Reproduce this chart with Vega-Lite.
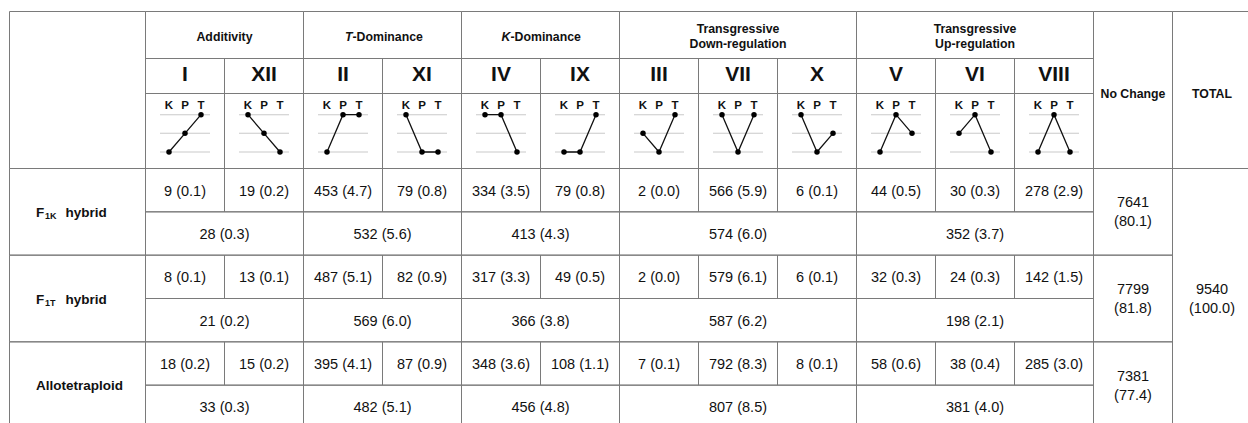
{
  "$schema": "https://vega.github.io/schema/vega-lite/v6.json",
  "width": 1248,
  "height": 423,
  "autosize": {"type": "none"},
  "padding": 0,
  "background": "white",
  "config": {"view": {"stroke": null}},
  "resolve": {"scale": {"x": "independent", "y": "independent", "xOffset": "independent"}},
  "datasets": {
    "classes": [
      {"cls": "I", "group": "Additivity", "K": 1, "P": 2, "T": 3},
      {"cls": "XII", "group": "Additivity", "K": 3, "P": 2, "T": 1},
      {"cls": "II", "group": "T-Dominance", "K": 1, "P": 3, "T": 3},
      {"cls": "XI", "group": "T-Dominance", "K": 3, "P": 1, "T": 1},
      {"cls": "IV", "group": "K-Dominance", "K": 3, "P": 3, "T": 1},
      {"cls": "IX", "group": "K-Dominance", "K": 1, "P": 1, "T": 3},
      {"cls": "III", "group": "Transgressive Down-regulation", "K": 2, "P": 1, "T": 3},
      {"cls": "VII", "group": "Transgressive Down-regulation", "K": 3, "P": 1, "T": 3},
      {"cls": "X", "group": "Transgressive Down-regulation", "K": 3, "P": 1, "T": 2},
      {"cls": "V", "group": "Transgressive Up-regulation", "K": 1, "P": 3, "T": 2},
      {"cls": "VI", "group": "Transgressive Up-regulation", "K": 2, "P": 3, "T": 1},
      {"cls": "VIII", "group": "Transgressive Up-regulation", "K": 1, "P": 3, "T": 1}
    ],
    "heads": [
      {"kind": "corner", "c0": 0, "c1": 1, "r0": 0, "r1": 3, "title": "", "lead": "", "tail": ""},
      {"kind": "group", "c0": 1, "c1": 3, "r0": 0, "r1": 1, "title": "Additivity", "lead": "", "tail": ""},
      {"kind": "group", "c0": 3, "c1": 5, "r0": 0, "r1": 1, "title": "", "lead": "T", "tail": "-Dominance"},
      {"kind": "group", "c0": 5, "c1": 7, "r0": 0, "r1": 1, "title": "", "lead": "K", "tail": "-Dominance"},
      {"kind": "group2", "c0": 7, "c1": 10, "r0": 0, "r1": 1, "title": ["Transgressive", "Down-regulation"], "lead": "", "tail": ""},
      {"kind": "group2", "c0": 10, "c1": 13, "r0": 0, "r1": 1, "title": ["Transgressive", "Up-regulation"], "lead": "", "tail": ""},
      {"kind": "side", "c0": 13, "c1": 14, "r0": 0, "r1": 3, "title": "No Change", "lead": "", "tail": ""},
      {"kind": "side", "c0": 14, "c1": 15, "r0": 0, "r1": 3, "title": "TOTAL", "lead": "", "tail": ""}
    ],
    "lines": [
      {"line": "F1K hybrid", "base": "F", "sub": "1K", "rest": "hybrid", "r0": 3, "r1": 5},
      {"line": "F1T hybrid", "base": "F", "sub": "1T", "rest": "hybrid", "r0": 5, "r1": 7},
      {"line": "Allotetraploid", "base": "Allotetraploid", "sub": "", "rest": "", "r0": 7, "r1": 9}
    ],
    "body": [
      {"line": "F1K hybrid", "cls": "I", "n": 9, "pct": 0.1, "text": "9 (0.1)", "c0": 1, "c1": 2, "r0": 3, "r1": 4},
      {"line": "F1K hybrid", "cls": "XII", "n": 19, "pct": 0.2, "text": "19 (0.2)", "c0": 2, "c1": 3, "r0": 3, "r1": 4},
      {"line": "F1K hybrid", "cls": "II", "n": 453, "pct": 4.7, "text": "453 (4.7)", "c0": 3, "c1": 4, "r0": 3, "r1": 4},
      {"line": "F1K hybrid", "cls": "XI", "n": 79, "pct": 0.8, "text": "79 (0.8)", "c0": 4, "c1": 5, "r0": 3, "r1": 4},
      {"line": "F1K hybrid", "cls": "IV", "n": 334, "pct": 3.5, "text": "334 (3.5)", "c0": 5, "c1": 6, "r0": 3, "r1": 4},
      {"line": "F1K hybrid", "cls": "IX", "n": 79, "pct": 0.8, "text": "79 (0.8)", "c0": 6, "c1": 7, "r0": 3, "r1": 4},
      {"line": "F1K hybrid", "cls": "III", "n": 2, "pct": 0.0, "text": "2 (0.0)", "c0": 7, "c1": 8, "r0": 3, "r1": 4},
      {"line": "F1K hybrid", "cls": "VII", "n": 566, "pct": 5.9, "text": "566 (5.9)", "c0": 8, "c1": 9, "r0": 3, "r1": 4},
      {"line": "F1K hybrid", "cls": "X", "n": 6, "pct": 0.1, "text": "6 (0.1)", "c0": 9, "c1": 10, "r0": 3, "r1": 4},
      {"line": "F1K hybrid", "cls": "V", "n": 44, "pct": 0.5, "text": "44 (0.5)", "c0": 10, "c1": 11, "r0": 3, "r1": 4},
      {"line": "F1K hybrid", "cls": "VI", "n": 30, "pct": 0.3, "text": "30 (0.3)", "c0": 11, "c1": 12, "r0": 3, "r1": 4},
      {"line": "F1K hybrid", "cls": "VIII", "n": 278, "pct": 2.9, "text": "278 (2.9)", "c0": 12, "c1": 13, "r0": 3, "r1": 4},
      {"line": "F1K hybrid", "group": "Additivity", "n": 28, "pct": 0.3, "text": "28 (0.3)", "c0": 1, "c1": 3, "r0": 4, "r1": 5},
      {"line": "F1K hybrid", "group": "T-Dominance", "n": 532, "pct": 5.6, "text": "532 (5.6)", "c0": 3, "c1": 5, "r0": 4, "r1": 5},
      {"line": "F1K hybrid", "group": "K-Dominance", "n": 413, "pct": 4.3, "text": "413 (4.3)", "c0": 5, "c1": 7, "r0": 4, "r1": 5},
      {"line": "F1K hybrid", "group": "Transgressive Down-regulation", "n": 574, "pct": 6.0, "text": "574 (6.0)", "c0": 7, "c1": 10, "r0": 4, "r1": 5},
      {"line": "F1K hybrid", "group": "Transgressive Up-regulation", "n": 352, "pct": 3.7, "text": "352 (3.7)", "c0": 10, "c1": 13, "r0": 4, "r1": 5},
      {"line": "F1K hybrid", "group": "No Change", "n": 7641, "pct": 80.1, "text": ["7641", "(80.1)"], "c0": 13, "c1": 14, "r0": 3, "r1": 5},

      {"line": "F1T hybrid", "cls": "I", "n": 8, "pct": 0.1, "text": "8 (0.1)", "c0": 1, "c1": 2, "r0": 5, "r1": 6},
      {"line": "F1T hybrid", "cls": "XII", "n": 13, "pct": 0.1, "text": "13 (0.1)", "c0": 2, "c1": 3, "r0": 5, "r1": 6},
      {"line": "F1T hybrid", "cls": "II", "n": 487, "pct": 5.1, "text": "487 (5.1)", "c0": 3, "c1": 4, "r0": 5, "r1": 6},
      {"line": "F1T hybrid", "cls": "XI", "n": 82, "pct": 0.9, "text": "82 (0.9)", "c0": 4, "c1": 5, "r0": 5, "r1": 6},
      {"line": "F1T hybrid", "cls": "IV", "n": 317, "pct": 3.3, "text": "317 (3.3)", "c0": 5, "c1": 6, "r0": 5, "r1": 6},
      {"line": "F1T hybrid", "cls": "IX", "n": 49, "pct": 0.5, "text": "49 (0.5)", "c0": 6, "c1": 7, "r0": 5, "r1": 6},
      {"line": "F1T hybrid", "cls": "III", "n": 2, "pct": 0.0, "text": "2 (0.0)", "c0": 7, "c1": 8, "r0": 5, "r1": 6},
      {"line": "F1T hybrid", "cls": "VII", "n": 579, "pct": 6.1, "text": "579 (6.1)", "c0": 8, "c1": 9, "r0": 5, "r1": 6},
      {"line": "F1T hybrid", "cls": "X", "n": 6, "pct": 0.1, "text": "6 (0.1)", "c0": 9, "c1": 10, "r0": 5, "r1": 6},
      {"line": "F1T hybrid", "cls": "V", "n": 32, "pct": 0.3, "text": "32 (0.3)", "c0": 10, "c1": 11, "r0": 5, "r1": 6},
      {"line": "F1T hybrid", "cls": "VI", "n": 24, "pct": 0.3, "text": "24 (0.3)", "c0": 11, "c1": 12, "r0": 5, "r1": 6},
      {"line": "F1T hybrid", "cls": "VIII", "n": 142, "pct": 1.5, "text": "142 (1.5)", "c0": 12, "c1": 13, "r0": 5, "r1": 6},
      {"line": "F1T hybrid", "group": "Additivity", "n": 21, "pct": 0.2, "text": "21 (0.2)", "c0": 1, "c1": 3, "r0": 6, "r1": 7},
      {"line": "F1T hybrid", "group": "T-Dominance", "n": 569, "pct": 6.0, "text": "569 (6.0)", "c0": 3, "c1": 5, "r0": 6, "r1": 7},
      {"line": "F1T hybrid", "group": "K-Dominance", "n": 366, "pct": 3.8, "text": "366 (3.8)", "c0": 5, "c1": 7, "r0": 6, "r1": 7},
      {"line": "F1T hybrid", "group": "Transgressive Down-regulation", "n": 587, "pct": 6.2, "text": "587 (6.2)", "c0": 7, "c1": 10, "r0": 6, "r1": 7},
      {"line": "F1T hybrid", "group": "Transgressive Up-regulation", "n": 198, "pct": 2.1, "text": "198 (2.1)", "c0": 10, "c1": 13, "r0": 6, "r1": 7},
      {"line": "F1T hybrid", "group": "No Change", "n": 7799, "pct": 81.8, "text": ["7799", "(81.8)"], "c0": 13, "c1": 14, "r0": 5, "r1": 7},

      {"line": "Allotetraploid", "cls": "I", "n": 18, "pct": 0.2, "text": "18 (0.2)", "c0": 1, "c1": 2, "r0": 7, "r1": 8},
      {"line": "Allotetraploid", "cls": "XII", "n": 15, "pct": 0.2, "text": "15 (0.2)", "c0": 2, "c1": 3, "r0": 7, "r1": 8},
      {"line": "Allotetraploid", "cls": "II", "n": 395, "pct": 4.1, "text": "395 (4.1)", "c0": 3, "c1": 4, "r0": 7, "r1": 8},
      {"line": "Allotetraploid", "cls": "XI", "n": 87, "pct": 0.9, "text": "87 (0.9)", "c0": 4, "c1": 5, "r0": 7, "r1": 8},
      {"line": "Allotetraploid", "cls": "IV", "n": 348, "pct": 3.6, "text": "348 (3.6)", "c0": 5, "c1": 6, "r0": 7, "r1": 8},
      {"line": "Allotetraploid", "cls": "IX", "n": 108, "pct": 1.1, "text": "108 (1.1)", "c0": 6, "c1": 7, "r0": 7, "r1": 8},
      {"line": "Allotetraploid", "cls": "III", "n": 7, "pct": 0.1, "text": "7 (0.1)", "c0": 7, "c1": 8, "r0": 7, "r1": 8},
      {"line": "Allotetraploid", "cls": "VII", "n": 792, "pct": 8.3, "text": "792 (8.3)", "c0": 8, "c1": 9, "r0": 7, "r1": 8},
      {"line": "Allotetraploid", "cls": "X", "n": 8, "pct": 0.1, "text": "8 (0.1)", "c0": 9, "c1": 10, "r0": 7, "r1": 8},
      {"line": "Allotetraploid", "cls": "V", "n": 58, "pct": 0.6, "text": "58 (0.6)", "c0": 10, "c1": 11, "r0": 7, "r1": 8},
      {"line": "Allotetraploid", "cls": "VI", "n": 38, "pct": 0.4, "text": "38 (0.4)", "c0": 11, "c1": 12, "r0": 7, "r1": 8},
      {"line": "Allotetraploid", "cls": "VIII", "n": 285, "pct": 3.0, "text": "285 (3.0)", "c0": 12, "c1": 13, "r0": 7, "r1": 8},
      {"line": "Allotetraploid", "group": "Additivity", "n": 33, "pct": 0.3, "text": "33 (0.3)", "c0": 1, "c1": 3, "r0": 8, "r1": 9},
      {"line": "Allotetraploid", "group": "T-Dominance", "n": 482, "pct": 5.1, "text": "482 (5.1)", "c0": 3, "c1": 5, "r0": 8, "r1": 9},
      {"line": "Allotetraploid", "group": "K-Dominance", "n": 456, "pct": 4.8, "text": "456 (4.8)", "c0": 5, "c1": 7, "r0": 8, "r1": 9},
      {"line": "Allotetraploid", "group": "Transgressive Down-regulation", "n": 807, "pct": 8.5, "text": "807 (8.5)", "c0": 7, "c1": 10, "r0": 8, "r1": 9},
      {"line": "Allotetraploid", "group": "Transgressive Up-regulation", "n": 381, "pct": 4.0, "text": "381 (4.0)", "c0": 10, "c1": 13, "r0": 8, "r1": 9},
      {"line": "Allotetraploid", "group": "No Change", "n": 7381, "pct": 77.4, "text": ["7381", "(77.4)"], "c0": 13, "c1": 14, "r0": 7, "r1": 9},

      {"line": "All", "group": "TOTAL", "n": 9540, "pct": 100.0, "text": ["9540", "(100.0)"], "c0": 14, "c1": 15, "r0": 3, "r1": 9}
    ]
  },
  "layer": [
    {
      "data": {"name": "body"},
      "mark": {"type": "rect", "fill": "transparent", "stroke": "#7a7a7a", "strokeWidth": 1},
      "encoding": {
        "x": {"field": "c0", "type": "quantitative", "axis": null, "scale": {"type": "linear", "domain": [0, 1, 15], "range": [9.5, 145.5, 1251.5], "nice": false, "zero": false}},
        "x2": {"field": "c1"},
        "y": {"field": "r0", "type": "quantitative", "axis": null, "scale": {"type": "linear", "domain": [0, 1, 2, 3, 9], "range": [11.5, 58.5, 93.5, 168.5, 428.5], "nice": false, "zero": false}},
        "y2": {"field": "r1"}
      }
    },
    {
      "data": {"name": "heads"},
      "mark": {"type": "rect", "fill": "transparent", "stroke": "#7a7a7a", "strokeWidth": 1},
      "encoding": {
        "x": {"field": "c0", "type": "quantitative", "axis": null, "scale": {"type": "linear", "domain": [0, 1, 15], "range": [9.5, 145.5, 1251.5], "nice": false, "zero": false}},
        "x2": {"field": "c1"},
        "y": {"field": "r0", "type": "quantitative", "axis": null, "scale": {"type": "linear", "domain": [0, 1, 2, 3, 9], "range": [11.5, 58.5, 93.5, 168.5, 428.5], "nice": false, "zero": false}},
        "y2": {"field": "r1"}
      }
    },
    {
      "data": {"name": "lines"},
      "mark": {"type": "rect", "fill": "transparent", "stroke": "#7a7a7a", "strokeWidth": 1},
      "encoding": {
        "x": {"datum": 0, "type": "quantitative", "axis": null, "scale": {"type": "linear", "domain": [0, 1, 15], "range": [9.5, 145.5, 1251.5], "nice": false, "zero": false}},
        "x2": {"datum": 1},
        "y": {"field": "r0", "type": "quantitative", "axis": null, "scale": {"type": "linear", "domain": [0, 1, 2, 3, 9], "range": [11.5, 58.5, 93.5, 168.5, 428.5], "nice": false, "zero": false}},
        "y2": {"field": "r1"}
      }
    },
    {
      "data": {"name": "classes"},
      "mark": {"type": "rect", "fill": "transparent", "stroke": "#7a7a7a", "strokeWidth": 1},
      "encoding": {
        "x": {"field": "cls", "type": "nominal", "axis": null, "scale": {"type": "band", "domain": ["I", "XII", "II", "XI", "IV", "IX", "III", "VII", "X", "V", "VI", "VIII"], "range": [145.5, 1093.5], "paddingInner": 0, "paddingOuter": 0}},
        "y": {"datum": 1, "type": "quantitative", "axis": null, "scale": {"type": "linear", "domain": [0, 1, 2, 3, 9], "range": [11.5, 58.5, 93.5, 168.5, 428.5], "nice": false, "zero": false}},
        "y2": {"datum": 2}
      }
    },
    {
      "data": {"name": "classes"},
      "mark": {"type": "rect", "fill": "transparent", "stroke": "#7a7a7a", "strokeWidth": 1},
      "encoding": {
        "x": {"field": "cls", "type": "nominal", "axis": null, "scale": {"type": "band", "domain": ["I", "XII", "II", "XI", "IV", "IX", "III", "VII", "X", "V", "VI", "VIII"], "range": [145.5, 1093.5], "paddingInner": 0, "paddingOuter": 0}},
        "y": {"datum": 2, "type": "quantitative", "axis": null, "scale": {"type": "linear", "domain": [0, 1, 2, 3, 9], "range": [11.5, 58.5, 93.5, 168.5, 428.5], "nice": false, "zero": false}},
        "y2": {"datum": 3}
      }
    },
    {
      "data": {"name": "body"},
      "transform": [
        {"fold": ["c0", "c1"], "as": ["xedge", "xv"]},
        {"aggregate": [{"op": "mean", "field": "xv", "as": "cx"}], "groupby": ["line", "group", "text", "c0", "r0", "r1"]},
        {"fold": ["r0", "r1"], "as": ["yedge", "yv"]},
        {"aggregate": [{"op": "mean", "field": "yv", "as": "cy"}], "groupby": ["line", "group", "text", "cx"]}
      ],
      "layer": [
        {
          "transform": [{"filter": {"not": {"field": "group", "oneOf": ["No Change", "TOTAL"]}}}],
          "mark": {"type": "text", "font": "Liberation Sans", "fontSize": 14.5, "color": "#111111", "dy": 1.5},
          "encoding": {
            "x": {"field": "cx", "type": "quantitative", "axis": null, "scale": {"type": "linear", "domain": [0, 1, 15], "range": [9.5, 145.5, 1251.5], "nice": false, "zero": false}},
            "y": {"field": "cy", "type": "quantitative", "axis": null, "scale": {"type": "linear", "domain": [0, 1, 2, 3, 9], "range": [11.5, 58.5, 93.5, 168.5, 428.5], "nice": false, "zero": false}},
            "text": {"field": "text", "type": "nominal"}
          }
        },
        {
          "transform": [{"filter": {"field": "group", "oneOf": ["No Change", "TOTAL"]}}],
          "mark": {"type": "text", "font": "Liberation Sans", "fontSize": 14.5, "color": "#111111", "lineHeight": 19, "dy": -8.5},
          "encoding": {
            "x": {"field": "cx", "type": "quantitative", "axis": null, "scale": {"type": "linear", "domain": [0, 1, 15], "range": [9.5, 145.5, 1251.5], "nice": false, "zero": false}},
            "y": {"field": "cy", "type": "quantitative", "axis": null, "scale": {"type": "linear", "domain": [0, 1, 2, 3, 9], "range": [11.5, 58.5, 93.5, 168.5, 428.5], "nice": false, "zero": false}},
            "text": {"field": "text", "type": "nominal"}
          }
        }
      ],
      "resolve": {"scale": {"x": "shared", "y": "shared"}}
    },
    {
      "data": {"name": "heads"},
      "transform": [
        {"fold": ["c0", "c1"], "as": ["xedge", "xv"]},
        {"aggregate": [{"op": "mean", "field": "xv", "as": "cx"}], "groupby": ["kind", "title", "lead", "tail", "c0", "r0", "r1"]},
        {"fold": ["r0", "r1"], "as": ["yedge", "yv"]},
        {"aggregate": [{"op": "mean", "field": "yv", "as": "cy"}], "groupby": ["kind", "title", "lead", "tail", "cx"]}
      ],
      "layer": [
        {
          "transform": [{"filter": {"field": "kind", "equal": "group"}}],
          "mark": {"type": "text", "font": "Liberation Sans", "fontWeight": "bold", "fontSize": 12.3, "color": "#111111", "dy": 1.5},
          "encoding": {
            "x": {"field": "cx", "type": "quantitative", "axis": null, "scale": {"type": "linear", "domain": [0, 1, 15], "range": [9.5, 145.5, 1251.5], "nice": false, "zero": false}},
            "y": {"field": "cy", "type": "quantitative", "axis": null, "scale": {"type": "linear", "domain": [0, 1, 2, 3, 9], "range": [11.5, 58.5, 93.5, 168.5, 428.5], "nice": false, "zero": false}},
            "text": {"field": "title", "type": "nominal"}
          }
        },
        {
          "transform": [{"filter": {"field": "kind", "equal": "group2"}}],
          "mark": {"type": "text", "font": "Liberation Sans", "fontWeight": "bold", "fontSize": 12.3, "color": "#111111", "lineHeight": 14.6, "dy": -6},
          "encoding": {
            "x": {"field": "cx", "type": "quantitative", "axis": null, "scale": {"type": "linear", "domain": [0, 1, 15], "range": [9.5, 145.5, 1251.5], "nice": false, "zero": false}},
            "y": {"field": "cy", "type": "quantitative", "axis": null, "scale": {"type": "linear", "domain": [0, 1, 2, 3, 9], "range": [11.5, 58.5, 93.5, 168.5, 428.5], "nice": false, "zero": false}},
            "text": {"field": "title", "type": "nominal"}
          }
        },
        {
          "transform": [{"filter": {"field": "kind", "equal": "side"}}],
          "mark": {"type": "text", "font": "Liberation Sans", "fontWeight": "bold", "fontSize": 12.3, "color": "#111111", "dy": 18},
          "encoding": {
            "x": {"field": "cx", "type": "quantitative", "axis": null, "scale": {"type": "linear", "domain": [0, 1, 15], "range": [9.5, 145.5, 1251.5], "nice": false, "zero": false}},
            "y": {"field": "cy", "type": "quantitative", "axis": null, "scale": {"type": "linear", "domain": [0, 1, 2, 3, 9], "range": [11.5, 58.5, 93.5, 168.5, 428.5], "nice": false, "zero": false}},
            "text": {"field": "title", "type": "nominal"}
          }
        },
        {
          "mark": {"type": "text", "font": "Liberation Sans", "fontWeight": "bold", "fontStyle": "italic", "fontSize": 12.3, "color": "#111111", "align": "right", "dx": -30, "dy": 1.5},
          "encoding": {
            "x": {"field": "cx", "type": "quantitative", "axis": null, "scale": {"type": "linear", "domain": [0, 1, 15], "range": [9.5, 145.5, 1251.5], "nice": false, "zero": false}},
            "y": {"field": "cy", "type": "quantitative", "axis": null, "scale": {"type": "linear", "domain": [0, 1, 2, 3, 9], "range": [11.5, 58.5, 93.5, 168.5, 428.5], "nice": false, "zero": false}},
            "text": {"field": "lead", "type": "nominal"}
          }
        },
        {
          "mark": {"type": "text", "font": "Liberation Sans", "fontWeight": "bold", "fontSize": 12.3, "color": "#111111", "align": "left", "dx": -30, "dy": 1.5},
          "encoding": {
            "x": {"field": "cx", "type": "quantitative", "axis": null, "scale": {"type": "linear", "domain": [0, 1, 15], "range": [9.5, 145.5, 1251.5], "nice": false, "zero": false}},
            "y": {"field": "cy", "type": "quantitative", "axis": null, "scale": {"type": "linear", "domain": [0, 1, 2, 3, 9], "range": [11.5, 58.5, 93.5, 168.5, 428.5], "nice": false, "zero": false}},
            "text": {"field": "tail", "type": "nominal"}
          }
        }
      ],
      "resolve": {"scale": {"x": "shared", "y": "shared"}}
    },
    {
      "data": {"name": "lines"},
      "transform": [
        {"fold": ["r0", "r1"], "as": ["yedge", "yv"]},
        {"aggregate": [{"op": "mean", "field": "yv", "as": "cy"}], "groupby": ["line", "base", "sub", "rest"]}
      ],
      "layer": [
        {
          "mark": {"type": "text", "font": "Liberation Sans", "fontWeight": "bold", "fontSize": 13.5, "color": "#111111", "align": "left", "dx": 26.5, "dy": 1},
          "encoding": {
            "x": {"datum": 0, "type": "quantitative", "axis": null, "scale": {"type": "linear", "domain": [0, 1, 15], "range": [9.5, 145.5, 1251.5], "nice": false, "zero": false}},
            "y": {"field": "cy", "type": "quantitative", "axis": null, "scale": {"type": "linear", "domain": [0, 1, 2, 3, 9], "range": [11.5, 58.5, 93.5, 168.5, 428.5], "nice": false, "zero": false}},
            "text": {"field": "base", "type": "nominal"}
          }
        },
        {
          "mark": {"type": "text", "font": "Liberation Sans", "fontWeight": "bold", "fontSize": 9, "color": "#111111", "align": "left", "dx": 35.5, "dy": 4},
          "encoding": {
            "x": {"datum": 0, "type": "quantitative", "axis": null, "scale": {"type": "linear", "domain": [0, 1, 15], "range": [9.5, 145.5, 1251.5], "nice": false, "zero": false}},
            "y": {"field": "cy", "type": "quantitative", "axis": null, "scale": {"type": "linear", "domain": [0, 1, 2, 3, 9], "range": [11.5, 58.5, 93.5, 168.5, 428.5], "nice": false, "zero": false}},
            "text": {"field": "sub", "type": "nominal"}
          }
        },
        {
          "mark": {"type": "text", "font": "Liberation Sans", "fontWeight": "bold", "fontSize": 13.5, "color": "#111111", "align": "left", "dx": 56, "dy": 1},
          "encoding": {
            "x": {"datum": 0, "type": "quantitative", "axis": null, "scale": {"type": "linear", "domain": [0, 1, 15], "range": [9.5, 145.5, 1251.5], "nice": false, "zero": false}},
            "y": {"field": "cy", "type": "quantitative", "axis": null, "scale": {"type": "linear", "domain": [0, 1, 2, 3, 9], "range": [11.5, 58.5, 93.5, 168.5, 428.5], "nice": false, "zero": false}},
            "text": {"field": "rest", "type": "nominal"}
          }
        }
      ],
      "resolve": {"scale": {"x": "shared", "y": "shared"}}
    },
    {
      "data": {"name": "classes"},
      "mark": {"type": "text", "font": "Liberation Sans", "fontWeight": "bold", "fontSize": 21, "color": "#111111", "dy": -1.5},
      "encoding": {
        "x": {"field": "cls", "type": "nominal", "axis": null, "scale": {"type": "band", "domain": ["I", "XII", "II", "XI", "IV", "IX", "III", "VII", "X", "V", "VI", "VIII"], "range": [145.5, 1093.5], "paddingInner": 0, "paddingOuter": 0}},
        "y": {"datum": 1.5, "type": "quantitative", "axis": null, "scale": {"type": "linear", "domain": [0, 1, 2, 3, 9], "range": [11.5, 58.5, 93.5, 168.5, 428.5], "nice": false, "zero": false}},
        "text": {"field": "cls", "type": "nominal"}
      }
    },
    {
      "data": {"name": "classes"},
      "mark": {"type": "tick", "orient": "horizontal", "size": 50, "thickness": 1, "color": "#b4b4b4"},
      "encoding": {
        "x": {"field": "cls", "type": "nominal", "axis": null, "scale": {"type": "band", "domain": ["I", "XII", "II", "XI", "IV", "IX", "III", "VII", "X", "V", "VI", "VIII"], "range": [145.5, 1093.5], "paddingInner": 0, "paddingOuter": 0}},
        "y": {"datum": 1, "type": "quantitative", "axis": null, "scale": {"type": "linear", "domain": [1, 3], "range": [152, 114.7], "nice": false, "zero": false}}
      }
    },
    {
      "data": {"name": "classes"},
      "mark": {"type": "tick", "orient": "horizontal", "size": 50, "thickness": 1, "color": "#b4b4b4"},
      "encoding": {
        "x": {"field": "cls", "type": "nominal", "axis": null, "scale": {"type": "band", "domain": ["I", "XII", "II", "XI", "IV", "IX", "III", "VII", "X", "V", "VI", "VIII"], "range": [145.5, 1093.5], "paddingInner": 0, "paddingOuter": 0}},
        "y": {"datum": 2, "type": "quantitative", "axis": null, "scale": {"type": "linear", "domain": [1, 3], "range": [152, 114.7], "nice": false, "zero": false}}
      }
    },
    {
      "data": {"name": "classes"},
      "mark": {"type": "tick", "orient": "horizontal", "size": 50, "thickness": 1, "color": "#b4b4b4"},
      "encoding": {
        "x": {"field": "cls", "type": "nominal", "axis": null, "scale": {"type": "band", "domain": ["I", "XII", "II", "XI", "IV", "IX", "III", "VII", "X", "V", "VI", "VIII"], "range": [145.5, 1093.5], "paddingInner": 0, "paddingOuter": 0}},
        "y": {"datum": 3, "type": "quantitative", "axis": null, "scale": {"type": "linear", "domain": [1, 3], "range": [152, 114.7], "nice": false, "zero": false}}
      }
    },
    {
      "data": {"name": "classes"},
      "transform": [{"fold": ["K", "P", "T"], "as": ["stage", "level"]}],
      "mark": {"type": "line", "color": "#111111", "strokeWidth": 1.3},
      "encoding": {
        "x": {"field": "cls", "type": "nominal", "axis": null, "scale": {"type": "band", "domain": ["I", "XII", "II", "XI", "IV", "IX", "III", "VII", "X", "V", "VI", "VIII"], "range": [145.5, 1093.5], "paddingInner": 0, "paddingOuter": 0}},
        "xOffset": {"field": "stage", "type": "nominal", "scale": {"type": "point", "domain": ["K", "P", "T"], "range": [23.5, 55.5], "padding": 0}},
        "y": {"field": "level", "type": "quantitative", "axis": null, "scale": {"type": "linear", "domain": [1, 3], "range": [152, 114.7], "nice": false, "zero": false}},
        "detail": {"field": "cls", "type": "nominal"},
        "order": {"field": "stage", "type": "nominal"}
      }
    },
    {
      "data": {"name": "classes"},
      "transform": [{"fold": ["K", "P", "T"], "as": ["stage", "level"]}],
      "mark": {"type": "point", "filled": true, "color": "#000000", "size": 30, "opacity": 1},
      "encoding": {
        "x": {"field": "cls", "type": "nominal", "axis": null, "scale": {"type": "band", "domain": ["I", "XII", "II", "XI", "IV", "IX", "III", "VII", "X", "V", "VI", "VIII"], "range": [145.5, 1093.5], "paddingInner": 0, "paddingOuter": 0}},
        "xOffset": {"field": "stage", "type": "nominal", "scale": {"type": "point", "domain": ["K", "P", "T"], "range": [23.5, 55.5], "padding": 0}},
        "y": {"field": "level", "type": "quantitative", "axis": null, "scale": {"type": "linear", "domain": [1, 3], "range": [152, 114.7], "nice": false, "zero": false}}
      }
    },
    {
      "data": {"name": "classes"},
      "transform": [{"fold": ["K", "P", "T"], "as": ["stage", "level"]}],
      "mark": {"type": "text", "font": "Liberation Sans", "fontWeight": "bold", "fontSize": 11.5, "color": "#111111", "dy": -9},
      "encoding": {
        "x": {"field": "cls", "type": "nominal", "axis": null, "scale": {"type": "band", "domain": ["I", "XII", "II", "XI", "IV", "IX", "III", "VII", "X", "V", "VI", "VIII"], "range": [145.5, 1093.5], "paddingInner": 0, "paddingOuter": 0}},
        "xOffset": {"field": "stage", "type": "nominal", "scale": {"type": "point", "domain": ["K", "P", "T"], "range": [23.5, 55.5], "padding": 0}},
        "y": {"datum": 3, "type": "quantitative", "axis": null, "scale": {"type": "linear", "domain": [1, 3], "range": [152, 114.7], "nice": false, "zero": false}},
        "text": {"field": "stage", "type": "nominal"}
      }
    }
  ]
}
